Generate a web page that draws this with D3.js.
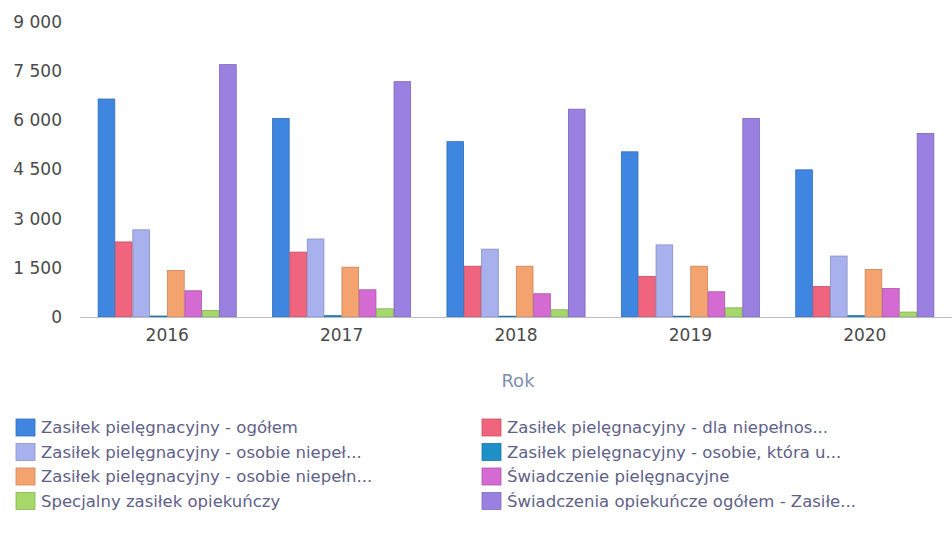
<!DOCTYPE html>
<html><head><meta charset="utf-8">
<script src="https://cdn.jsdelivr.net/npm/d3@7"></script>
<style>body{margin:0;background:#fff}svg{display:block}</style>
</head><body><svg id="c" width="952" height="536"></svg>
<script>
const categories = ["2016","2017","2018","2019","2020"];
const seriesNames = [
  "Zasiłek pielęgnacyjny - ogółem",
  "Zasiłek pielęgnacyjny - dla niepełnos...",
  "Zasiłek pielęgnacyjny - osobie niepeł...",
  "Zasiłek pielęgnacyjny - osobie, która u...",
  "Zasiłek pielęgnacyjny -  osobie niepełn...",
  "Świadczenie pielęgnacyjne",
  "Specjalny zasiłek opiekuńczy",
  "Świadczenia opiekuńcze ogółem - Zasiłe..."
];
const seriesColors = ["#3f86e0","#f0647e","#a8b0ee","#1e90c8","#f5a36e","#d46ad2","#a6d86a","#9a80e0"];
const values = [
  [6650, 6060, 5350, 5040, 4490],
  [2290, 1980, 1550, 1240, 930],
  [2660, 2380, 2070, 2200, 1860],
  [30, 40, 25, 25, 40],
  [1420, 1520, 1550, 1550, 1450],
  [800, 830, 710, 770, 870],
  [200, 250, 220, 280, 150],
  [7700, 7180, 6340, 6060, 5600]
];
const yTicks = [0,1500,3000,4500,6000,7500,9000];
const yTickLabels = ["0","1 500","3 000","4 500","6 000","7 500","9 000"];
const xTitle = "Rok";

const FONT = "'DejaVu Sans',sans-serif";
const svg = d3.select("#c");
const W = 952;
const x0 = d3.scaleBand().domain(categories).range([80, W]).paddingInner(0.2).paddingOuter(0.1);
const x1 = d3.scaleBand().domain(d3.range(seriesNames.length)).range([0, x0.bandwidth()]).padding(0.04);
const y = d3.scaleLinear().domain([0,9000]).range([317, 22]);

// y axis labels
const yAxis = d3.axisLeft(y).tickValues(yTicks).tickFormat((d,i)=>yTickLabels[i]).tickSize(0).tickPadding(0);
const ga = svg.append("g").attr("transform","translate(62,0)").call(yAxis);
ga.select(".domain").remove();
ga.selectAll("text").attr("font-family",FONT).attr("font-size",17).attr("fill","#4a4a4a");

// bars
const groups = svg.append("g").selectAll("g").data(categories).join("g")
  .attr("transform", d=>`translate(${x0(d)},0)`);
groups.selectAll("rect").data((c,ci)=>values.map((s,si)=>({si, v:s[ci]}))).join("rect")
  .attr("x", d=>x1(d.si)).attr("width", x1.bandwidth())
  .attr("y", d=>y(d.v)).attr("height", d=>y(0)-y(d.v))
  .attr("fill", d=>seriesColors[d.si])
  .attr("stroke", d=>d3.color(seriesColors[d.si]).darker(0.6)).attr("stroke-width",0.8);

// x axis
const xAxis = d3.axisBottom(x0).tickSize(0).tickPadding(12);
const gx = svg.append("g").attr("transform",`translate(0,${y(0)})`).call(xAxis);
gx.select(".domain").attr("stroke","#b8bcc8");
gx.selectAll("text").attr("font-family",FONT).attr("font-size",17).attr("fill","#4a4a4a");

svg.append("text").attr("x", 518).attr("y", 387).attr("text-anchor","middle")
  .attr("font-family",FONT).attr("font-size",18).attr("fill","#7f8fb0").text(xTitle);

// legend
const leg = svg.append("g").selectAll("g").data(seriesNames).join("g")
  .attr("transform",(d,i)=>`translate(${i%2===0?16:482},${419 + Math.floor(i/2)*24.5})`);
leg.append("rect").attr("width",19).attr("height",17).attr("y",0)
  .attr("fill",(d,i)=>seriesColors[i]).attr("stroke",(d,i)=>d3.color(seriesColors[i]).darker(0.5)).attr("stroke-width",0.8);
leg.append("text").attr("x",25).attr("y",14).text(d=>d)
  .attr("font-family",FONT).attr("font-size",16.5).attr("fill","#5e6088");
</script></body></html>
